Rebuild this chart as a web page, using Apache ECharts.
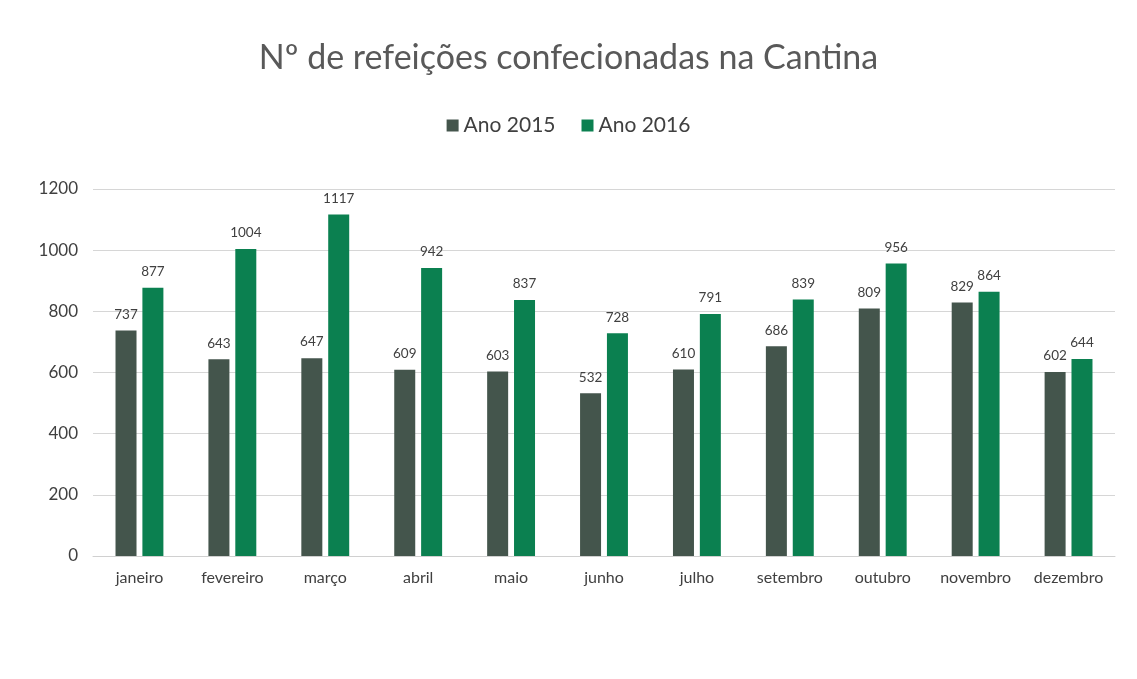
<!DOCTYPE html>
<html>
<head>
<meta charset="utf-8">
<script src="https://cdn.jsdelivr.net/npm/echarts@6/dist/echarts.min.js"></script>
<style>
  html, body { margin: 0; padding: 0; background: #fff; }
  #chart { width: 1137px; height: 679px; }
</style>
</head>
<body>
<div id="chart"></div>
<script>
// months (agosto is not in the source chart)
const months = ['janeiro', 'fevereiro', 'março', 'abril', 'maio', 'junho',
  'julho', 'setembro', 'outubro', 'novembro', 'dezembro'];
const ano2015 = [737, 643, 647, 609, 603, 532, 610, 686, 809, 829, 602];
const ano2016 = [877, 1004, 1117, 942, 837, 728, 791, 839, 956, 864, 644];

const font = 'Lato, "Open Sans", sans-serif';
const chart = echarts.init(document.getElementById('chart'));

const labelStyle = {
  show: true,
  position: 'top',
  distance: 9,
  color: '#404040',
  fontSize: 13.5,
  fontFamily: font,
};

chart.setOption({
  animation: false,
  backgroundColor: '#fff',
  title: {
    text: 'Nº de refeições confecionadas na Cantina',
    left: 'center',
    top: 36,
    textStyle: { color: '#595959', fontSize: 34, fontWeight: 'normal', fontFamily: font },
  },
  legend: {
    data: ['Ano 2015', 'Ano 2016'],
    top: 110,
    left: 'center',
    itemWidth: 12,
    itemHeight: 12,
    itemGap: 26,
    icon: 'rect',
    textStyle: { color: '#404040', fontSize: 21, fontFamily: font },
  },
  grid: { left: 93, right: 22, top: 189, bottom: 123 },
  xAxis: {
    type: 'category',
    data: months,
    axisLine: { show: true, lineStyle: { color: '#d0d0d0' } },
    axisTick: { show: false },
    axisLabel: { interval: 0, color: '#404040', fontSize: 16, fontFamily: font, margin: 14 },
  },
  yAxis: {
    type: 'value',
    min: 0,
    max: 1200,
    interval: 200,
    axisLine: { show: false },
    axisTick: { show: false },
    axisLabel: { color: '#404040', fontSize: 17, fontFamily: font, margin: 15, formatter: v => String(v) },
    splitLine: { lineStyle: { color: '#d6d6d6' } },
  },
  series: [
    {
      name: 'Ano 2015',
      type: 'bar',
      data: ano2015,
      barWidth: 21,
      barGap: '28%',
      itemStyle: { color: '#44554c' },
      label: labelStyle,
    },
    {
      name: 'Ano 2016',
      type: 'bar',
      data: ano2016,
      barWidth: 21,
      itemStyle: { color: '#0b8050' },
      label: labelStyle,
    },
  ],
});
</script>
</body>
</html>
